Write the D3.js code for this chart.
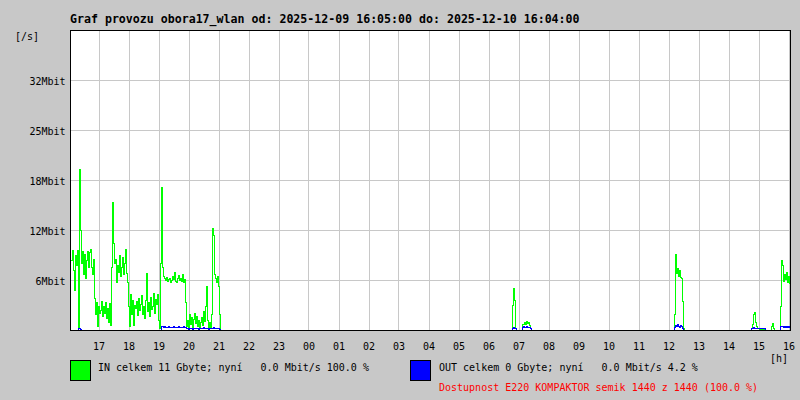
<!DOCTYPE html>
<html>
<head>
<meta charset="utf-8">
<script src="https://cdn.jsdelivr.net/npm/d3@7"></script>
<style>
  html, body { margin: 0; padding: 0; background: #c8c8c8; }
  svg { display: block; }
  text { font-family: "DejaVu Sans Mono", "Liberation Mono", monospace; white-space: pre; }
</style>
</head>
<body>
<svg id="chart" width="800" height="400"></svg>
<script>
// ---------------- DATA ----------------
const titleText = "Graf provozu obora17_wlan od: 2025-12-09 16:05:00 do: 2025-12-10 16:04:00";
const startTime = "2025-12-09T16:05:00";
const endTime = "2025-12-10T16:05:00";
const yUnit = "[/s]";
const xUnit = "[h]";
const yTickValues = [6.3, 12.6, 18.9, 25.2, 31.5];
const yTickLabels = ["6Mbit", "12Mbit", "18Mbit", "25Mbit", "32Mbit"];
const yMax = 37.8;
const stepMinutes = 2;

// IN (green) traffic, Mbit/s, 2-minute samples, zero outside segments
const inStarts = ["2025-12-09T16:05", "2025-12-10T06:45", "2025-12-10T12:09", "2025-12-10T14:45"];
const inSeg1 = [8.8, 10.1, 7.6, 5.0, 9.5, 8.2, 10.1, 0.3, 20.3, 12.6,
  8.5, 10.0, 7.0, 9.6, 6.5, 8.8, 9.9, 8.0,
  9.8, 10.2, 8.0, 7.0, 9.0,
  4.0, 2.0, 3.5, 0.5, 3.0, 2.2,
  2.5, 3.6, 1.8, 3.0, 2.2, 3.5, 1.5,
  2.8, 1.0, 3.4, 0.6,
  8.0, 16.1, 11.0, 8.5,
  9.0, 6.0, 8.2, 7.3, 9.5, 6.8, 8.0, 9.2, 7.0,
  8.5, 10.2, 7.2, 6.0, 3.0,
  0.5, 4.5, 2.0, 3.8, 0.6, 3.2,
  2.8, 3.6, 1.9, 4.0, 2.5, 3.3, 4.4, 2.0, 3.0, 1.5, 3.8, 7.2, 2.4, 3.5, 1.8, 4.1, 2.6,
  3.0, 4.6, 2.2, 3.9, 3.3, 4.5, 1.2,
  0.3, 8.5, 18.0, 8.0, 6.8,
  6.5, 6.3, 6.7, 6.2, 6.4, 6.6, 6.1, 6.3, 6.8, 6.4, 7.3, 6.2, 6.0, 6.5, 6.9, 6.3, 6.6, 6.2, 7.0, 6.1, 6.4,
  3.5, 0.5,
  1.2, 0.4, 2.0, 0.8, 1.6, 0.3, 1.4, 2.2, 0.9, 1.8, 0.5, 1.3, 0.2, 1.0, 1.7, 0.6, 2.4, 1.1, 3.0,
  5.5, 1.2, 0.4, 1.0, 0.3,
  2.0, 12.9, 12.0, 7.0, 6.5, 6.0, 6.8, 5.5, 2.0, 0];
const inSeg2 = [0, 3.2, 5.3, 3.8, 0.3, 0, 0, 0, 0, 0, 0, 0.8, 0.7, 1.0, 0.8, 1.1, 0.9, 1.0, 0.6, 0.3, 0];
const inSeg3 = [0, 2.0, 9.6, 7.2, 7.8, 6.8, 7.5, 6.7, 6.5, 3.6, 0.3, 0];
const inSeg4 = [0.2, 0.8, 2.0, 2.3, 1.0, 0.5, 0.3, 0.2, 0.1, 0.1, 0.1, 0.1, 0.1, 0.1,
  0, 0, 0, 0, 0, 0, 0.5, 0.9, 0.3, 0, 0, 0, 0, 0, 0,
  3.0, 8.8, 8.2, 6.2, 7.0, 6.4, 7.3, 6.1, 6.8, 5.9, 6.6];

// OUT (blue) traffic, Mbit/s, 2-minute samples
const outStarts = ["2025-12-09T16:19", "2025-12-09T19:05", "2025-12-10T06:47", "2025-12-10T12:11", "2025-12-10T14:45"];
const outSeg1 = [0.2, 0.25, 0.1, 0];
const outSeg2 = [0.5, 0.45, 0.4, 0.45, 0.4, 0.35, 0.4, 0.45, 0.4, 0.4, 0.35, 0.4, 0.45, 0.4, 0.35, 0.4, 0.4, 0.45, 0.4, 0.35, 0.4, 0.4, 0.45, 0.4, 0.35, 0.3,
  0.2, 0.15, 0.25, 0.2, 0.3, 0.15, 0.2, 0.25, 0.2, 0.3, 0.2, 0.15, 0.25, 0.2, 0.3, 0.2, 0.35, 0.2, 0.3, 0.25, 0.2, 0.15, 0.2, 0.25, 0.2, 0.3, 0.35, 0.25, 0.2, 0.3, 0.25, 0.2, 0.15, 0];
const outSeg3 = [0.3, 0.35, 0.3, 0.2, 0, 0, 0, 0, 0, 0, 0.4, 0.45, 0.35, 0.4, 0.45, 0.4, 0.35, 0.4, 0.3, 0];
const outSeg4 = [0.4, 0.6, 0.5, 0.7, 0.5, 0.4, 0.6, 0.5, 0.3, 0];
const outSeg5 = [0.25, 0.3, 0.35, 0.3, 0.25, 0.2, 0.25, 0.2, 0.25, 0.2, 0.25, 0.2, 0.25, 0.2,
  0, 0, 0, 0, 0, 0, 0, 0, 0, 0, 0, 0, 0, 0, 0,
  0.45, 0.5, 0.45, 0.4, 0.45, 0.4, 0.45, 0.4, 0.45, 0.4, 0.45];

const legendIn = "IN celkem 11 Gbyte; nyní   0.0 Mbit/s 100.0 %";
const legendOut = "OUT celkem 0 Gbyte; nyní   0.0 Mbit/s 4.2 %";
const availability = "Dostupnost E220 KOMPAKTOR semik 1440 z 1440 (100.0 %)";

// ---------------- BUILD SERIES ----------------
const parse = d3.timeParse("%Y-%m-%dT%H:%M");
const t0 = d3.isoParse(startTime);
const t1 = d3.isoParse(endTime);
const nSlots = Math.round((t1 - t0) / 60000 / stepMinutes);

function buildSeries(starts, segs) {
  const vals = new Array(nSlots).fill(0);
  starts.forEach((s, k) => {
    const idx0 = Math.round((parse(s) - t0) / 60000 / stepMinutes);
    segs[k].forEach((v, i) => { if (idx0 + i < nSlots) vals[idx0 + i] = v; });
  });
  return vals.map((v, i) => ({ t: new Date(+t0 + i * stepMinutes * 60000), v }));
}
const inSeries = buildSeries(inStarts, [inSeg1, inSeg2, inSeg3, inSeg4]);
const outSeries = buildSeries(outStarts, [outSeg1, outSeg2, outSeg3, outSeg4, outSeg5]);

// ---------------- DRAW ----------------
const svg = d3.select("#chart");
const L = 70.5, R = 790.5, T = 30.5, B = 330.5;

svg.append("rect").attr("width", 800).attr("height", 400).attr("fill", "#c8c8c8");
svg.append("rect").attr("x", L).attr("y", T).attr("width", R - L).attr("height", B - T).attr("fill", "#ffffff");

const x = d3.scaleTime().domain([t0, t1]).range([L + 0.5, R + 0.5]);
const y = d3.scaleLinear().domain([0, yMax]).range([B, T]);

const hours = d3.timeHour.range(d3.timeHour.ceil(new Date(+t0 + 1)), t1);

// grid
const grid = svg.append("g").attr("stroke", "#c8c8c8").attr("stroke-width", 1).attr("shape-rendering", "crispEdges");
grid.selectAll("line.v").data(hours).join("line")
  .attr("x1", d => Math.round(x(d)) + 0.5).attr("x2", d => Math.round(x(d)) + 0.5)
  .attr("y1", T).attr("y2", B);
grid.selectAll("line.h").data(yTickValues).join("line")
  .attr("x1", L).attr("x2", R)
  .attr("y1", d => Math.round(y(d) - 0.5) + 0.5).attr("y2", d => Math.round(y(d) - 0.5) + 0.5);

// clip
svg.append("clipPath").attr("id", "clip").append("rect")
  .attr("x", L).attr("y", T).attr("width", R - L).attr("height", B - T);

const line = d3.line().curve(d3.curveStepAfter).x(d => x(d.t)).y(d => y(d.v));
const plot = svg.append("g").attr("clip-path", "url(#clip)");
plot.append("path").datum(inSeries).attr("d", line)
  .attr("fill", "none").attr("stroke", "#00ff00").attr("stroke-width", 1).attr("shape-rendering", "crispEdges");
plot.append("path").datum(outSeries).attr("d", line)
  .attr("fill", "none").attr("stroke", "#0000ff").attr("stroke-width", 1).attr("shape-rendering", "crispEdges");

// border
svg.append("rect").attr("x", L).attr("y", T).attr("width", R - L).attr("height", B - T)
  .attr("fill", "none").attr("stroke", "#000").attr("stroke-width", 1).attr("shape-rendering", "crispEdges");

// y axis labels
const yAxis = d3.axisLeft(y).tickValues(yTickValues).tickFormat((d, i) => yTickLabels[i]).tickSize(0).tickPadding(5);
const yg = svg.append("g").attr("transform", `translate(${L},0)`).call(yAxis);
yg.select(".domain").remove();
yg.selectAll("text").attr("font-family", "DejaVu Sans Mono").attr("font-size", 10).attr("fill", "#000").attr("dy", "0.35em");

// x axis labels
const xAxis = d3.axisBottom(x).tickValues(hours).tickFormat(d3.timeFormat("%H")).tickSize(0).tickPadding(12);
const xg = svg.append("g").attr("transform", `translate(0,${B})`).call(xAxis);
xg.select(".domain").remove();
xg.selectAll("text").attr("font-family", "DejaVu Sans Mono").attr("font-size", 10).attr("fill", "#000");

// titles
svg.append("text").attr("x", 70).attr("y", 23).attr("font-size", 11.6).attr("font-weight", "bold").attr("fill", "#000").text(titleText);
svg.append("text").attr("x", 15).attr("y", 40).attr("font-size", 10).attr("fill", "#000").text(yUnit);
svg.append("text").attr("x", 770).attr("y", 362).attr("font-size", 10).attr("fill", "#000").text(xUnit);

// legend
const legend = [
  { color: "#00ff00", text: legendIn, bx: 70.5, tx: 98 },
  { color: "#0000ff", text: legendOut, bx: 410.5, tx: 439 }
];
legend.forEach(l => {
  svg.append("rect").attr("x", l.bx).attr("y", 360.5).attr("width", 20).attr("height", 20)
    .attr("fill", l.color).attr("stroke", "#000").attr("stroke-width", 1).attr("shape-rendering", "crispEdges");
  svg.append("text").attr("x", l.tx).attr("y", 371).attr("font-size", 10).attr("fill", "#000").text(l.text);
});
svg.append("text").attr("x", 439).attr("y", 391).attr("font-size", 10).attr("fill", "#ff0000").text(availability);
</script>
</body>
</html>
